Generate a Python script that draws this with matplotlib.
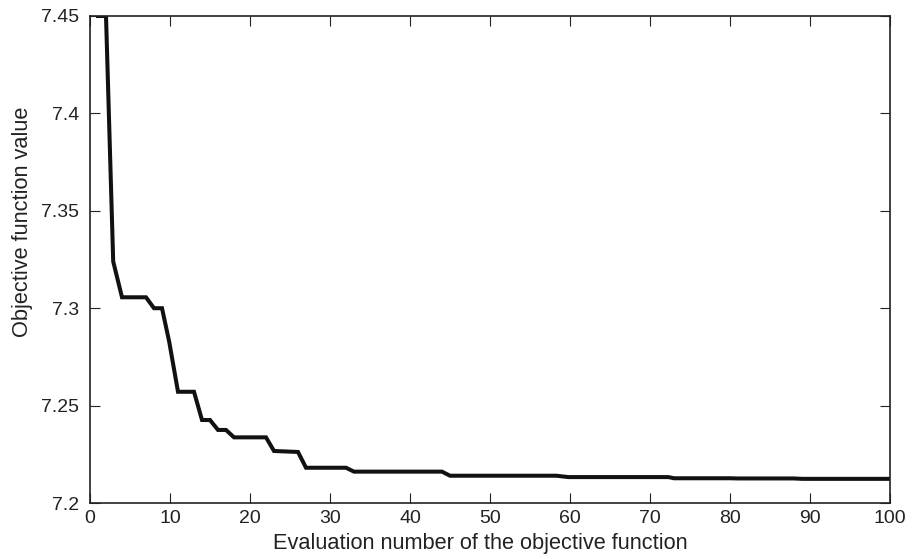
import matplotlib.pyplot as plt

# best objective value found so far, per evaluation (step-like convergence)
evals = [1, 2, 2.9, 4, 7, 8, 9, 9.9, 11, 13, 14, 15, 16, 17, 18, 22, 23, 26, 27,
         32, 33, 44, 45, 58.3, 59.8, 72.3, 73, 80, 81, 88, 89, 100]
objective = [7.45, 7.45, 7.324, 7.3056, 7.3056, 7.300, 7.300, 7.2828, 7.2571,
             7.2571, 7.2426, 7.2426, 7.2375, 7.2375, 7.2337, 7.2337, 7.2267,
             7.2262, 7.2181, 7.2181, 7.2161, 7.2161, 7.2140, 7.2140, 7.2133,
             7.2133, 7.2127, 7.2127, 7.2126, 7.2126, 7.2124, 7.2124]

xticks = list(range(0, 101, 10))
yticks = [7.2, 7.25, 7.3, 7.35, 7.4, 7.45]
ytick_labels = ['7.2', '7.25', '7.3', '7.35', '7.4', '7.45']

plt.rcParams['font.family'] = ['Liberation Sans', 'DejaVu Sans']

fig = plt.figure(figsize=(9.13, 5.59), dpi=100)
ax = fig.add_axes([90 / 913, 1 - 503 / 559, 800 / 913, 487 / 559])

ax.plot(evals, objective, color='#111111', linewidth=2.9, solid_joinstyle='miter')

ax.set_xlim(0, 100)
ax.set_ylim(7.2, 7.45)
ax.set_xticks(xticks)
ax.set_yticks(yticks)
ax.set_yticklabels(ytick_labels)

ax.tick_params(direction='in', length=7, width=0.8, top=True, right=True,
               labelsize=14, colors='#222222')
ax.tick_params(axis='x', pad=5)
ax.tick_params(axis='y', pad=8)
for sp in ax.spines.values():
    sp.set_linewidth(1.2)
    sp.set_color('#222222')

ax.set_xlabel('Evaluation number of the objective function', fontsize=15.7, color='#222222')
ax.set_ylabel('Objective function value', fontsize=15.7, color='#222222')
ax.xaxis.set_label_coords(0.4875, -0.062)
ax.yaxis.set_label_coords(-0.071, 0.577)

fig.savefig('out.png', dpi=100)
